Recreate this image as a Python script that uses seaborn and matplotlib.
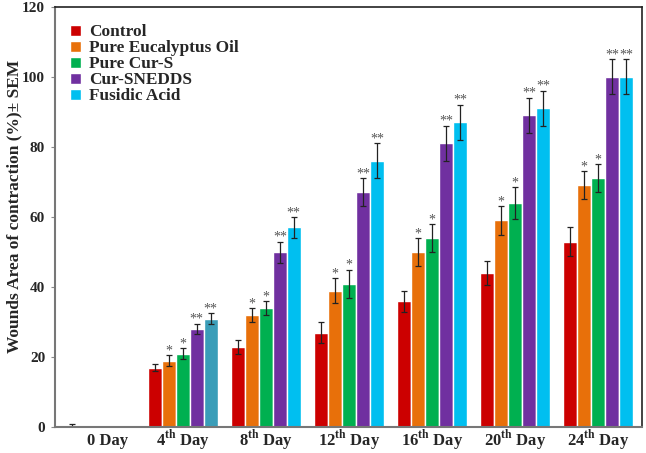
import numpy as np
import pandas as pd
import matplotlib
matplotlib.use('Agg')
import matplotlib.pyplot as plt
import matplotlib.transforms as mtransforms
import seaborn as sns

days = ['0 Day', '4th Day', '8th Day', '12th Day', '16th Day', '20th Day', '24th Day']
day_labels = ['0 Day', r'4$^{\mathbf{th}}$ Day', r'8$^{\mathbf{th}}$ Day', r'12$^{\mathbf{th}}$ Day',
              r'16$^{\mathbf{th}}$ Day', r'20$^{\mathbf{th}}$ Day', r'24$^{\mathbf{th}}$ Day']
groups = ['Control', 'Pure Eucalyptus Oil', 'Pure Cur-S', 'Cur-SNEDDS', 'Fusidic Acid']

control = [0, 17, 23, 27, 36, 44, 53]
eucalyptus = [0, 19, 32, 39, 50, 59, 69]
cur_s = [0, 21, 34, 41, 54, 64, 71]
snedds = [0, 28, 50, 67, 81, 89, 100]
fusidic = [0, 31, 57, 76, 87, 91, 100]

control_err = [1, 1, 2, 3, 3, 3.5, 4]
eucalyptus_err = [0, 1.5, 2, 3.5, 4, 4, 4]
cur_s_err = [0, 1.5, 2, 4, 4, 4.5, 4]
snedds_err = [0, 1.5, 3, 4, 5, 5, 5]
fusidic_err = [0, 1.5, 3, 5, 5, 5, 5]

control_sig = ['', '', '', '', '', '', '']
eucalyptus_sig = ['', '*', '*', '*', '*', '*', '*']
cur_s_sig = ['', '*', '*', '*', '*', '*', '*']
snedds_sig = ['', '**', '**', '**', '**', '**', '**']
fusidic_sig = ['', '**', '**', '**', '**', '**', '**']

colors = ['#CC0000', '#E8700A', '#00B050', '#7030A0', '#00BFF0']

values = [control, eucalyptus, cur_s, snedds, fusidic]
errors = [control_err, eucalyptus_err, cur_s_err, snedds_err, fusidic_err]
sigs = [control_sig, eucalyptus_sig, cur_s_sig, snedds_sig, fusidic_sig]

rows = []
for g, vals, errs, ss in zip(groups, values, errors, sigs):
    for d, v, e, s in zip(days, vals, errs, ss):
        rows.append({'day': d, 'group': g, 'value': v, 'err': e, 'sig': s})
df = pd.DataFrame(rows)

sns.set_style('white')
plt.rcParams['font.family'] = ['Liberation Serif', 'DejaVu Serif']
plt.rcParams['font.weight'] = 'bold'
plt.rcParams['mathtext.fontset'] = 'custom'
plt.rcParams['mathtext.rm'] = 'Liberation Serif:bold'
plt.rcParams['mathtext.bf'] = 'Liberation Serif:bold'

fig = plt.figure(figsize=(6.46, 4.53), dpi=100)
ax = fig.add_axes([0.085, 0.057, 0.909, 0.928])

sns.barplot(data=df, x='day', y='value', hue='group', palette=colors, width=0.84,
            errorbar=None, saturation=1, ax=ax)

# error bars and stars, placed on the drawn bars
for gi, g in enumerate(groups):
    cont = ax.containers[gi]
    sub = df[df['group'] == g].reset_index(drop=True)
    for bar, (_, r) in zip(cont, sub.iterrows()):
        xc = bar.get_x() + bar.get_width() / 2
        h = bar.get_height()
        if r['err'] > 0:
            ax.errorbar(xc, h, yerr=r['err'], fmt='none', ecolor='#222222',
                        elinewidth=0.9, capsize=2.2, capthick=0.9)
        if r['sig']:
            ax.text(xc, h + r['err'] - 0.6, r['sig'], ha='center', va='bottom',
                    fontsize=10, color='#555555', fontweight='normal')

# the 4th day fusidic bar is a darker teal in the original
ax.containers[4][1].set_facecolor('#3A9DB8')

ax.set_ylim(0, 120)
ax.set_xlim(-0.54, 6.53)
ax.set_yticks(range(0, 121, 20))
ax.set_xticks(range(len(days)))
ax.set_xticklabels(day_labels, fontsize=12, fontweight='bold')
ax.tick_params(axis='x', length=0, pad=13)
for lab in ax.get_xticklabels():
    lab.set_va('baseline')
first = ax.get_xticklabels()[0]
first.set_transform(first.get_transform() + mtransforms.ScaledTranslation(8 / 100, 0, fig.dpi_scale_trans))
ax.tick_params(axis='y', length=3, labelsize=11, left=True, direction='out', color='#888888', pad=4)
for lab in ax.get_yticklabels():
    lab.set_fontweight('bold')
ax.set_xlabel('')
ax.set_ylabel('Wounds Area of contraction (%)± SEM', fontsize=12.5, fontweight='bold')
ax.yaxis.set_label_coords(-0.056, 0.526)

for s in ['left', 'bottom']:
    ax.spines[s].set_color('#777777')
    ax.spines[s].set_linewidth(1.5)
for s in ['top', 'right']:
    ax.spines[s].set_color('#222222')
    ax.spines[s].set_linewidth(1.2)

leg = ax.legend(loc='upper left', frameon=False, fontsize=12.4, handlelength=0.6,
                handleheight=0.6, handletextpad=0.5, labelspacing=0.0,
                bbox_to_anchor=(0.0, 0.995))
for t in leg.get_texts():
    t.set_fontweight('bold')

plt.savefig('out.png', dpi=100)
